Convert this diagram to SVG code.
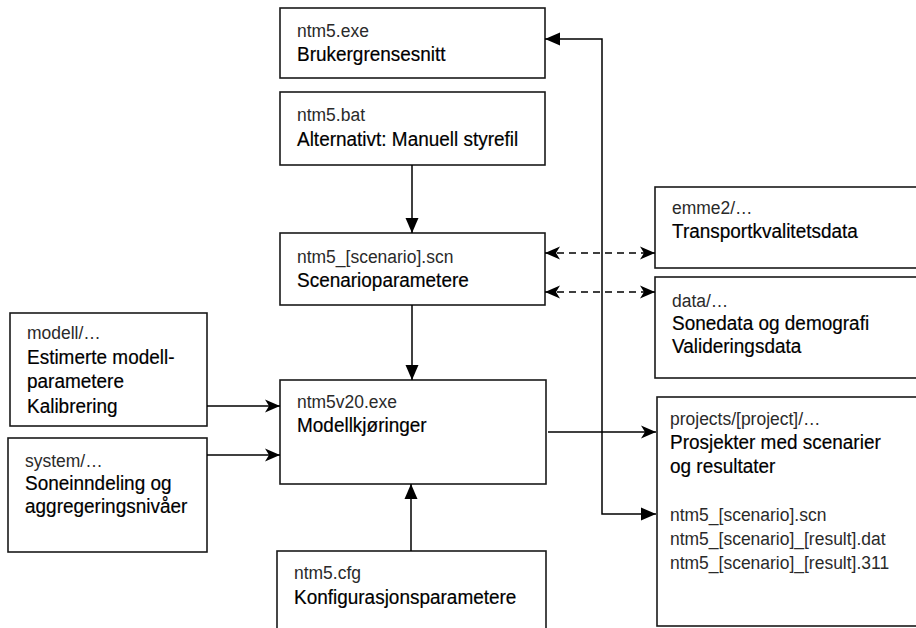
<svg xmlns="http://www.w3.org/2000/svg" width="916" height="628" viewBox="0 0 916 628">
<defs>
<marker id="tri" markerUnits="userSpaceOnUse" markerWidth="16" markerHeight="14" refX="15" refY="6.5" orient="auto-start-reverse" viewBox="0 0 16 13">
<path d="M0,0 L15,6.5 L0,13 z" fill="#000"/>
</marker>
<marker id="stealth" markerUnits="userSpaceOnUse" markerWidth="16" markerHeight="14" refX="15" refY="6.5" orient="auto-start-reverse" viewBox="0 0 16 13">
<path d="M0,0 L15,6.5 L0,13 L4,6.5 z" fill="#000"/>
</marker>
</defs>
<style>
.box{fill:#fff;stroke:#1a1a1a;stroke-width:1.6}
.t1{font-family:"Liberation Sans",Arial,sans-serif;font-size:18.8px;fill:#2a2a2a}
.t2{font-family:"Liberation Sans",Arial,sans-serif;font-size:20.4px;fill:#000;stroke:#000;stroke-width:0.2}
.c{fill:none;stroke:#000;stroke-width:1.5}
.d{fill:none;stroke:#000;stroke-width:1.5;stroke-dasharray:7 5}
</style>
<rect width="916" height="628" fill="#fff"/>

<g id="n-gui">
<rect class="box" x="280" y="8" width="265" height="70"/>
<text class="t1" transform="translate(297 37) scale(.93 1)">ntm5.exe</text>
<text class="t2" transform="translate(297 61) scale(.93 1)">Brukergrensesnitt</text>
</g>

<g id="n-bat">
<rect class="box" x="280" y="92" width="265" height="73"/>
<text class="t1" transform="translate(297 121) scale(.93 1)">ntm5.bat</text>
<text class="t2" transform="translate(297 146) scale(.93 1)">Alternativt: Manuell styrefil</text>
</g>

<g id="n-scn">
<rect class="box" x="280" y="233" width="265" height="72"/>
<text class="t1" transform="translate(297 263) scale(.93 1)">ntm5_[scenario].scn</text>
<text class="t2" transform="translate(297 287) scale(.93 1)">Scenarioparametere</text>
</g>

<g id="n-emme2">
<rect class="box" x="655" y="187" width="270" height="81"/>
<text class="t1" transform="translate(672 214) scale(.93 1)">emme2/…</text>
<text class="t2" transform="translate(672 238) scale(.93 1)">Transportkvalitetsdata</text>
</g>

<g id="n-data">
<rect class="box" x="655" y="277" width="270" height="101"/>
<text class="t1" transform="translate(672 307) scale(.93 1)">data/…</text>
<text class="t2" transform="translate(672 330) scale(.93 1)">Sonedata og demografi</text>
<text class="t2" transform="translate(672 353) scale(.93 1)">Valideringsdata</text>
</g>

<g id="n-modell">
<rect class="box" x="10" y="313" width="197" height="113"/>
<text class="t1" transform="translate(27 339) scale(.93 1)">modell/…</text>
<text class="t2" transform="translate(27 364) scale(.93 1)">Estimerte modell-</text>
<text class="t2" transform="translate(27 388) scale(.93 1)">parametere</text>
<text class="t2" transform="translate(27 413) scale(.93 1)">Kalibrering</text>
</g>

<g id="n-system">
<rect class="box" x="8" y="438" width="199" height="114"/>
<text class="t1" transform="translate(25 467) scale(.93 1)">system/…</text>
<text class="t2" transform="translate(25 490) scale(.93 1)">Soneinndeling og</text>
<text class="t2" transform="translate(25 513) scale(.93 1)">aggregeringsnivåer</text>
</g>

<g id="n-run">
<rect class="box" x="280" y="380" width="266" height="104"/>
<text class="t1" transform="translate(297 408) scale(.93 1)">ntm5v20.exe</text>
<text class="t2" transform="translate(297 432) scale(.93 1)">Modellkjøringer</text>
</g>

<g id="n-projects">
<rect class="box" x="657" y="397" width="270" height="229"/>
<text class="t1" transform="translate(670 425) scale(.93 1)">projects/[project]/…</text>
<text class="t2" transform="translate(670 449) scale(.93 1)">Prosjekter med scenarier</text>
<text class="t2" transform="translate(670 473) scale(.93 1)">og resultater</text>
<text class="t1" transform="translate(670 521) scale(.93 1)">ntm5_[scenario].scn</text>
<text class="t1" transform="translate(670 545) scale(.93 1)">ntm5_[scenario]_[result].dat</text>
<text class="t1" transform="translate(670 569) scale(.93 1)">ntm5_[scenario]_[result].311</text>
</g>

<g id="n-cfg">
<rect class="box" x="277" y="551" width="269" height="90"/>
<text class="t1" transform="translate(294 579) scale(.93 1)">ntm5.cfg</text>
<text class="t2" transform="translate(294 604) scale(.93 1)">Konfigurasjonsparametere</text>
</g>

<g id="connectors">
<path class="c" d="M412,165 V233" marker-end="url(#tri)"/>
<path class="c" d="M412,305 V380" marker-end="url(#tri)"/>
<path class="c" d="M411,551 V484" marker-end="url(#tri)"/>
<path class="c" d="M207,406 H280" marker-end="url(#stealth)"/>
<path class="c" d="M207,455 H280" marker-end="url(#stealth)"/>
<path class="c" d="M548,432 H656" marker-end="url(#stealth)"/>
<path class="c" d="M656,514 H602 V39 H545" marker-start="url(#tri)" marker-end="url(#tri)"/>
<path class="d" d="M545,253 H655" marker-start="url(#stealth)" marker-end="url(#stealth)"/>
<path class="d" d="M545,292 H655" marker-start="url(#stealth)" marker-end="url(#stealth)"/>
</g>
</svg>
